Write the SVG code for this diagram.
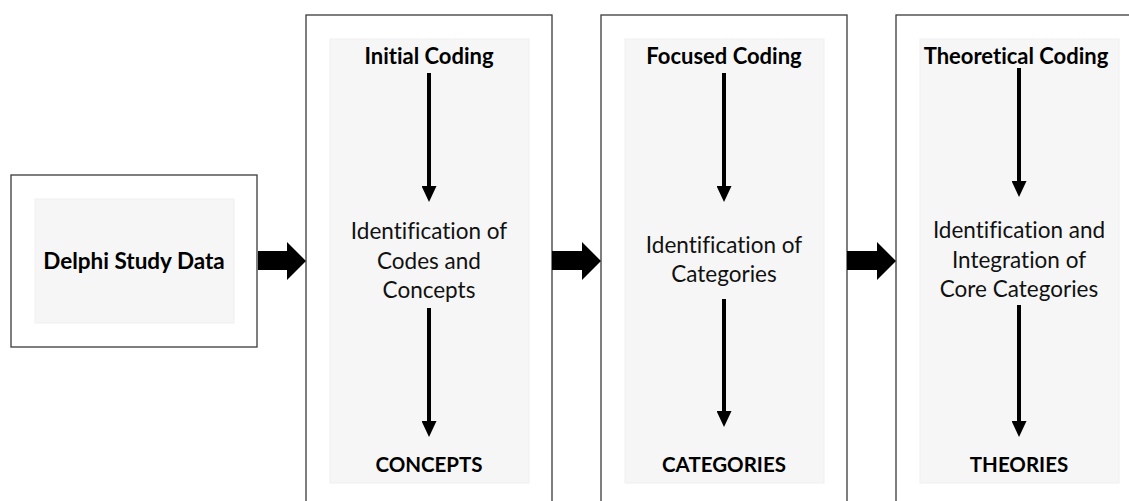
<svg xmlns="http://www.w3.org/2000/svg" width="1129" height="501" viewBox="0 0 1129 501">
  <style>
    text { font-family: Lato, "Open Sans", sans-serif; text-anchor: middle; font-variant-ligatures: none; }
    .outer { fill: #ffffff; stroke: #3a3a3a; stroke-width: 1.3; }
    .inner { fill: #f6f6f6; stroke: #efefef; stroke-width: 1; }
    .title { font-weight: bold; font-size: 22px; fill: #000; }
    .label { font-weight: bold; font-size: 20.5px; fill: #000; }
    .body { font-size: 22.5px; fill: #111; }
    .flow { stroke: #000; stroke-width: 4; fill: none; marker-end: url(#head); }
    .block { fill: #000; }
  </style>
  <defs>
    <marker id="head" markerUnits="userSpaceOnUse" markerWidth="16" markerHeight="15" viewBox="0 0 16 15" refX="8" refY="7.5" orient="auto">
      <path d="M0,0 L16,7.5 L0,15 Z" fill="#000"/>
    </marker>
  </defs>

  <!-- source data -->
  <g id="delphi-data">
    <rect class="outer" x="11" y="175" width="246" height="172"/>
    <rect class="inner" x="35" y="199" width="199" height="124"/>
    <text class="title" x="134" y="269" style="font-size:22.5px">Delphi Study Data</text>
  </g>

  <!-- stage 1 -->
  <g id="initial-coding">
    <rect class="outer" x="306" y="15" width="246" height="500"/>
    <rect class="inner" x="330" y="39" width="199" height="444"/>
    <text class="title" x="429" y="64">Initial Coding</text>
    <text class="body" x="429" y="239">Identification of</text>
    <text class="body" x="429" y="269">Codes and</text>
    <text class="body" x="429" y="298">Concepts</text>
    <text class="label" x="429" y="472">CONCEPTS</text>
  </g>

  <!-- stage 2 -->
  <g id="focused-coding">
    <rect class="outer" x="601" y="15" width="246" height="500"/>
    <rect class="inner" x="625" y="39" width="199" height="444"/>
    <text class="title" x="724" y="64">Focused Coding</text>
    <text class="body" x="724" y="253">Identification of</text>
    <text class="body" x="724" y="282">Categories</text>
    <text class="label" x="724" y="472">CATEGORIES</text>
  </g>

  <!-- stage 3 -->
  <g id="theoretical-coding">
    <rect class="outer" x="896" y="15" width="246" height="500"/>
    <rect class="inner" x="920" y="39" width="199" height="444"/>
    <text class="title" x="1016" y="64">Theoretical Coding</text>
    <text class="body" x="1019" y="238">Identification and</text>
    <text class="body" x="1019" y="268">Integration of</text>
    <text class="body" x="1019" y="297">Core Categories</text>
    <text class="label" x="1019" y="472">THEORIES</text>
  </g>

  <!-- connectors: block arrows between stages, flow arrows inside them -->
  <g id="connectors">
    <polygon class="block" points="258,251 287,251 287,242 306,261 287,280 287,270 258,270"/>
    <polygon class="block" points="552,251 582,251 582,242 601,261 582,280 582,270 552,270"/>
    <polygon class="block" points="847,251 877,251 877,242 896,261 877,280 877,270 847,270"/>

    <line class="flow" x1="429" y1="73" x2="429" y2="194"/>
    <line class="flow" x1="429" y1="308" x2="429" y2="429"/>
    <line class="flow" x1="724" y1="73" x2="724" y2="194"/>
    <line class="flow" x1="724" y1="299" x2="724" y2="419"/>
    <line class="flow" x1="1019" y1="68" x2="1019" y2="189"/>
    <line class="flow" x1="1019" y1="305" x2="1019" y2="429"/>
  </g>
</svg>
